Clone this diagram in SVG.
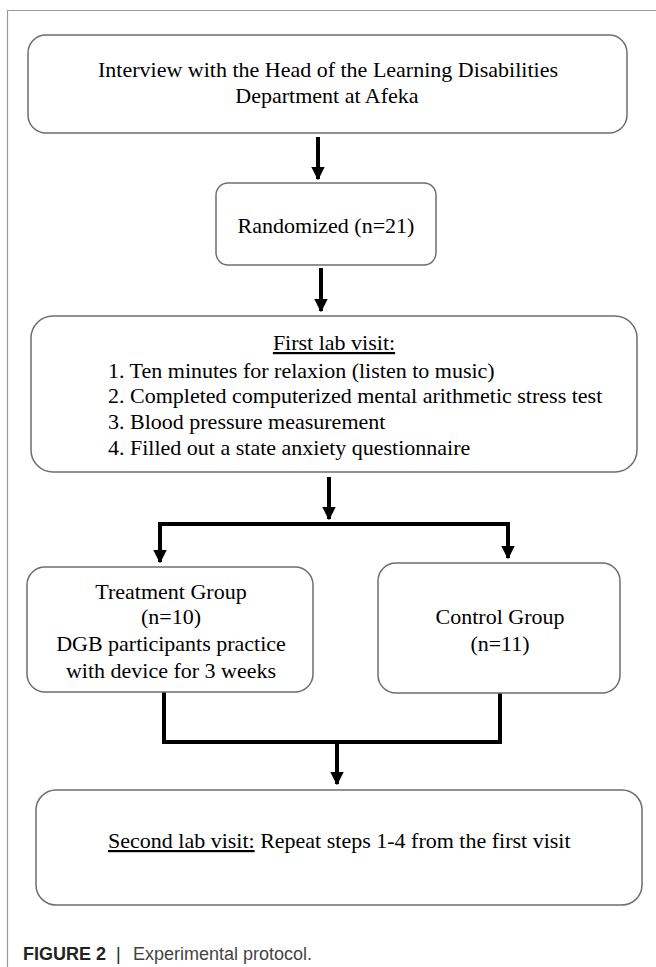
<svg xmlns="http://www.w3.org/2000/svg" width="656" height="967" viewBox="0 0 656 967">
<defs>
<style>
.box{fill:#fff;stroke:#6e6e6e;stroke-width:1.5}
.t{font-family:"Liberation Serif","Times New Roman",serif;font-size:22px;fill:#000}
.c{text-anchor:middle}
.ln{fill:none;stroke:#000;stroke-width:4}
.cap{font-family:"Liberation Sans",Arial,sans-serif;font-size:18px;fill:#444}
</style>
<marker id="ah" viewBox="0 0 10 10" refX="9" refY="5" markerWidth="3.4" markerHeight="3.4" orient="auto" markerUnits="strokeWidth">
<path d="M0,0 L10,5 L0,10 z" fill="#000"/>
</marker>
</defs>
<rect width="656" height="967" fill="#fff"/>
<path d="M656,10.5 H7.5 V967" fill="none" stroke="#999" stroke-width="1.2"/>

<g id="connectors">
<line class="ln" x1="318" y1="137" x2="318" y2="179" marker-end="url(#ah)"/>
<line class="ln" x1="321" y1="268" x2="321" y2="311" marker-end="url(#ah)"/>
<line class="ln" x1="329" y1="477" x2="329" y2="519" marker-end="url(#ah)"/>
<polyline class="ln" points="160,524 508,524 508,558" marker-end="url(#ah)"/>
<line class="ln" x1="160" y1="522" x2="160" y2="562" marker-end="url(#ah)"/>
<polyline class="ln" points="164,692 164,742 500,742 500,693"/>
<line class="ln" x1="337" y1="742" x2="337" y2="784" marker-end="url(#ah)"/>
</g>

<g id="interview">
<rect class="box" x="28" y="35" width="599" height="98" rx="18"/>
<text class="t c" x="328" y="77">Interview with the Head of the Learning Disabilities</text>
<text class="t c" x="327" y="103">Department at Afeka</text>
</g>

<g id="randomized">
<rect class="box" x="216" y="183" width="220" height="82" rx="12"/>
<text class="t c" x="326" y="233">Randomized (n=21)</text>
</g>

<g id="first-visit">
<rect class="box" x="31" y="316" width="606" height="156" rx="22"/>
<text class="t c" x="334" y="350" text-decoration="underline">First lab visit:</text>
<text class="t" x="108" y="378">1. Ten minutes for relaxion (listen to music)</text>
<text class="t" x="108" y="403">2. Completed computerized mental arithmetic stress test</text>
<text class="t" x="108" y="429">3. Blood pressure measurement</text>
<text class="t" x="108" y="455">4. Filled out a state anxiety questionnaire</text>
</g>

<g id="treatment">
<rect class="box" x="27" y="567" width="286" height="125" rx="18"/>
<text class="t c" x="171" y="599">Treatment Group</text>
<text class="t c" x="171" y="624">(n=10)</text>
<text class="t c" x="171" y="651">DGB participants practice</text>
<text class="t c" x="171" y="678">with device for 3 weeks</text>
</g>

<g id="control">
<rect class="box" x="378" y="563" width="242" height="130" rx="18"/>
<text class="t c" x="500" y="624">Control Group</text>
<text class="t c" x="500" y="651">(n=11)</text>
</g>

<g id="second-visit">
<rect class="box" x="36" y="790" width="606" height="115" rx="20"/>
<text class="t" x="108" y="848"><tspan text-decoration="underline">Second lab visit:</tspan> Repeat steps 1-4 from the first visit</text>
</g>

<text class="cap" y="960"><tspan x="23" font-weight="bold" fill="#222">FIGURE 2</tspan><tspan x="116" fill="#222">|</tspan><tspan x="133">Experimental protocol.</tspan></text>
</svg>
